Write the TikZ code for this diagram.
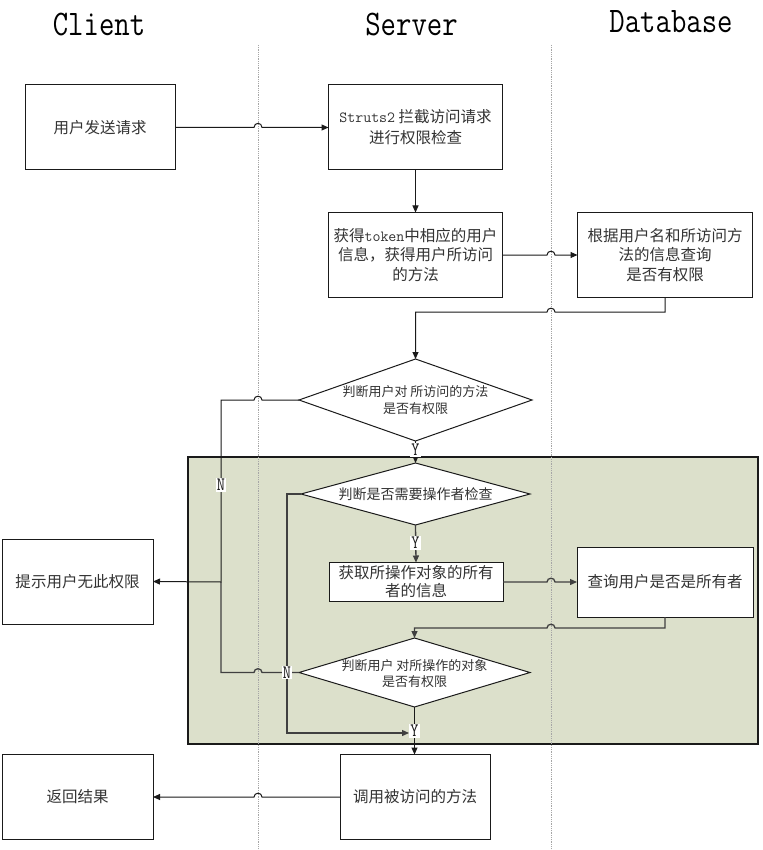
\documentclass[tikz,border=0pt]{standalone}
\usepackage{fontspec}
\setmainfont{Noto Sans CJK SC}
\setmonofont{Latin Modern Mono}
\newfontfamily\titlefont[FakeStretch=0.83]{Latin Modern Mono}
\usetikzlibrary{shapes.geometric,arrows.meta}
\definecolor{panel}{HTML}{DCE0CB}
\definecolor{ink}{HTML}{1A1A1A}
\definecolor{txt}{HTML}{333333}
\begin{document}
\begin{tikzpicture}[x=1pt,y=-1pt,
  box/.style={draw=ink, line width=1pt, fill=white, inner sep=0pt, outer sep=0pt, align=center,
    font=\fontsize{15.5}{19.5}\selectfont, text=txt},
  dia/.style={diamond, draw=ink, line width=1pt, fill=white, inner sep=0pt, outer sep=0pt},
  diatext/.style={align=center, inner sep=0pt, font=\fontsize{13}{16.5}\selectfont, text=txt},
  conn/.style={draw=ink, line width=1pt},
  inconn/.style={draw=black!75, line width=1.3pt},
  arr/.style={-{Triangle[length=7pt,width=6pt]}},
  yn/.style={fill=white, inner sep=1pt, font=\titlefont\fontsize{19}{19}\selectfont, text=ink},
  lane/.style={draw=gray!70, densely dotted, line width=0.8pt},
  title/.style={font=\titlefont\fontsize{36}{36}\selectfont, anchor=base, inner sep=0pt}
]
\useasboundingbox (0,0) rectangle (762,850);
\fill[white] (0,0) rectangle (762,850);

% panel
\draw[fill=panel, draw=ink, line width=1.3pt] (188,457) rectangle (758,744);

% lanes
\draw[lane] (258,45) -- (258,850);
\draw[lane] (551,45) -- (551,850);

% titles
\node[title] (tc) at (99,36) {Client};
\node[title] (ts) at (411.5,36) {Server};
\node[title] (td) at (671,33) {Database};

% boxes
\node[box, minimum width=150pt, minimum height=85pt] (b1) at (100,127.5) {用户发送请求};
\node[box, minimum width=174pt, minimum height=85pt, font=\fontsize{15.5}{21}\selectfont] (b2) at (415.5,127.5) {\texttt{Struts2} 拦截访问请求\\进行权限检查};
\node[box, minimum width=174pt, minimum height=85pt] (b3) at (415.5,255) {获得\texttt{token}中相应的用户\\信息，获得用户所访问\\的方法};
\node[box, minimum width=175pt, minimum height=85pt] (b4) at (665,255) {根据用户名和所访问方\\法的信息查询\\是否有权限};
\node[box, minimum width=174pt, minimum height=39pt, font=\fontsize{15.5}{18}\selectfont] (b5) at (416,582) {获取所操作对象的所有\\者的信息};
\node[box, minimum width=176pt, minimum height=70pt] (b6) at (665,582) {查询用户是否是所有者};
\node[box, minimum width=151pt, minimum height=85pt] (b7) at (77.5,581.5) {提示用户无此权限};
\node[box, minimum width=151pt, minimum height=85pt] (b8) at (77.5,797) {返回结果};
\node[box, minimum width=150pt, minimum height=85pt] (b9) at (415,797) {调用被访问的方法};

% diamonds
\node[dia, minimum width=233pt, minimum height=82pt] (d1) at (415.5,400) {};
\node[diatext] (t1) at (d1.center) {判断用户对 所访问的方法\\是否有权限};
\node[dia, minimum width=229pt, minimum height=62pt] (d2) at (415.5,494) {};
\node[diatext, font=\fontsize{14}{16.5}\selectfont] (t2) at (d2.center) {判断是否需要操作者检查};
\node[dia, minimum width=231pt, minimum height=69pt] (d3) at (414.5,672.5) {};
\node[diatext] (t3) at ([yshift=-1pt]d3.center) {判断用户 对所操作的对象\\是否有权限};

% connectors
\draw[conn,arr] (b1.east) -- (254,127.5) .. controls (254,122) and (262,122) .. (262,127.5) -- (b2.west);
\draw[conn,arr] (b2.south) -- (b3.north);
\draw[conn,arr] (b3.east) -- (547,255) .. controls (547,250) and (555,250) .. (555,255) -- (b4.west);
\draw[conn,arr] (b4.south) -- (665,312) -- (555,312) .. controls (555,307) and (547,307) .. (547,312) -- (415.5,312) -- (d1.north);
\draw[conn,arr] (d1.south) -- (d2.north);
\draw[conn,arr] (d1.west) -- (262,400) .. controls (262,395) and (254,395) .. (254,400) -- (221,400) -- (221,582) -- (b7.east);
\draw[inconn,arr] (d2.south) -- (b5.north);
\draw[inconn,arr] (d2.west) -- (287,494) -- (287,733) -- (409,733);
\draw[inconn] (d3.west) -- (262,672.5) .. controls (262,667.5) and (254,667.5) .. (254,672.5) -- (221,672.5) -- (221,582);
\draw[inconn,arr] (b5.east) -- (547,582) .. controls (547,577) and (555,577) .. (555,582) -- (b6.west);
\draw[inconn,arr] (b6.south) -- (665,628) -- (555,628) .. controls (555,623) and (547,623) .. (547,628) -- (414.5,628) -- (d3.north);
\draw[conn,arr] (d3.south) -- (d3.south |- b9.north);
\draw[conn,arr] (b9.west) -- (262,797) .. controls (262,792) and (254,792) .. (254,797) -- (b8.east);

% labels
\node[yn] (y1) at (415.5,450) {Y};
\node[yn] (y2) at (415.5,543) {Y};
\node[yn] (y3) at (414.5,731) {Y};
\node[yn] (n1) at (221,485) {N};
\node[yn] (n2) at (287,672.5) {N};
\end{tikzpicture}
\end{document}
